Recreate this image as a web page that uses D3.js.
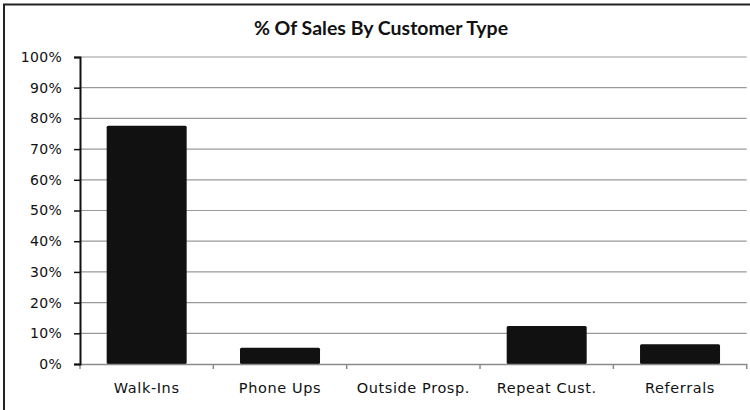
<!DOCTYPE html>
<html>
<head>
<meta charset="utf-8">
<script src="https://cdn.jsdelivr.net/npm/d3@7"></script>
<style>
  html, body { margin: 0; padding: 0; background: #fff; }
  svg { display: block; }
</style>
</head>
<body>
<svg id="chart" width="750" height="410"></svg>
<script>
// Share of sales by customer type (fractions of 1)
const categories = ["Walk-Ins", "Phone Ups", "Outside Prosp.", "Repeat Cust.", "Referrals"];
const shares = [0.776, 0.053, 0, 0.124, 0.064];
const yTicks = [0, 0.1, 0.2, 0.3, 0.4, 0.5, 0.6, 0.7, 0.8, 0.9, 1.0];
const title = "% Of Sales By Customer Type";

const svg = d3.select("#chart");
const W = 750, H = 410;
const margin = { top: 57, right: 3.3, bottom: 46, left: 80 };
const iw = W - margin.left - margin.right;
const ih = H - margin.top - margin.bottom;
const labelFont = "'DejaVu Sans', Verdana, sans-serif";

// outer frame (left and top edges visible; the rest runs off the canvas)
svg.append("rect")
  .attr("x", 4).attr("y", 4.5)
  .attr("width", W + 10).attr("height", H + 10)
  .attr("fill", "#fff")
  .attr("stroke", "#222").attr("stroke-width", 2);

svg.append("text")
  .attr("x", 381).attr("y", 35)
  .attr("text-anchor", "middle")
  .attr("font-family", "Lato, 'Open Sans', sans-serif")
  .attr("font-weight", "bold")
  .attr("font-size", 19.5)
  .attr("fill", "#111")
  .text(title);

const g = svg.append("g").attr("transform", `translate(${margin.left},${margin.top})`);

const x = d3.scaleBand().domain(categories).range([0, iw]).paddingInner(0.4).paddingOuter(0.2);
const y = d3.scaleLinear().domain([0, 1]).range([ih, 0]);

// horizontal gridlines
g.append("g").selectAll("line")
  .data(yTicks.filter(d => d > 0))
  .join("line")
  .attr("x1", 0).attr("x2", iw)
  .attr("y1", d => y(d)).attr("y2", d => y(d))
  .attr("stroke", "#9a9a9a").attr("stroke-width", 1.2);

// bars
g.append("g").selectAll("rect")
  .data(categories.map((c, i) => ({ c, v: shares[i] })).filter(d => d.v > 0))
  .join("rect")
  .attr("x", d => x(d.c))
  .attr("y", d => y(d.v))
  .attr("width", x.bandwidth())
  .attr("height", d => ih - y(d.v))
  .attr("rx", 1.5)
  .attr("fill", "#111");

// category axis
const xAxis = d3.axisBottom(x).tickSize(0).tickPadding(19);
const xg = g.append("g").attr("transform", `translate(0,${ih})`).call(xAxis);
xg.select(".domain").attr("stroke", "#8a8a8a").attr("stroke-width", 1.5);
xg.selectAll("text")
  .attr("font-family", labelFont)
  .attr("font-size", 14.5)
  .attr("letter-spacing", 0.6)
  .attr("fill", "#111");
// category boundary ticks
xg.append("g").selectAll("line")
  .data(d3.range(categories.length + 1))
  .join("line")
  .attr("x1", i => i * iw / categories.length)
  .attr("x2", i => i * iw / categories.length)
  .attr("y1", 0).attr("y2", 5)
  .attr("stroke", "#8a8a8a").attr("stroke-width", 1.5);

// value axis
const yAxis = d3.axisLeft(y).tickValues(yTicks).tickFormat(d3.format(".0%")).tickSize(6).tickPadding(12);
const yg = g.append("g").call(yAxis);
yg.select(".domain").attr("stroke", "#111").attr("stroke-width", 2);
yg.selectAll(".tick line").attr("stroke", "#111").attr("stroke-width", 1.5);
yg.selectAll("text")
  .attr("font-family", labelFont)
  .attr("font-size", 14)
  .attr("letter-spacing", 0.3)
  .attr("fill", "#111");
</script>
</body>
</html>
